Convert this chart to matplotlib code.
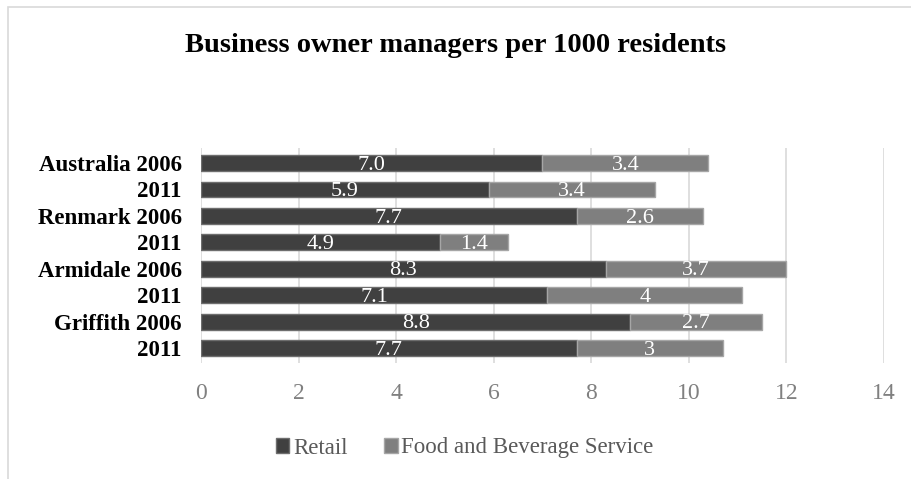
import matplotlib
matplotlib.use("Agg")
import matplotlib.pyplot as plt
from matplotlib.patches import Rectangle

# Business owner managers per 1000 residents, by town and census year
categories = ["Australia 2006", "2011", "Renmark 2006", "2011",
              "Armidale 2006", "2011", "Griffith 2006", "2011"]
retail = [7.0, 5.9, 7.7, 4.9, 8.3, 7.1, 8.8, 7.7]
food_bev = [3.4, 3.4, 2.6, 1.4, 3.7, 4.0, 2.7, 3.0]
retail_labels = ["7.0", "5.9", "7.7", "4.9", "8.3", "7.1", "8.8", "7.7"]
food_labels = ["3.4", "3.4", "2.6", "1.4", "3.7", "4", "2.7", "3"]
x_ticks = [0, 2, 4, 6, 8, 10, 12, 14]

plt.rcParams["font.family"] = ["Liberation Serif", "DejaVu Serif"]

fig = plt.figure(figsize=(9.11, 4.79), dpi=100)
ax = fig.add_axes([0.2206, 0.242, 0.7497, 0.449])

# outer chart frame
fig.patches.append(Rectangle((8 / 911, -0.1), 1.2, 1 - 7 / 479 + 0.1,
                             transform=fig.transFigure, fill=False,
                             edgecolor="#d9d9d9", linewidth=1.2))

ypos = list(range(len(categories)))
c_retail = "#404040"
c_food = "#7f7f7f"
h = 0.6

ax.barh(ypos, retail, height=h, color=c_retail, edgecolor="#6e6e6e",
        linewidth=1.0, label="Retail", zorder=3)
ax.barh(ypos, food_bev, left=retail, height=h, color=c_food,
        edgecolor="#a6a6a6", linewidth=1.0,
        label="Food and Beverage Service", zorder=3)

for i in ypos:
    ax.text(retail[i] / 2, i + 0.08, retail_labels[i], ha="center",
            va="center", color="white", fontsize=16, zorder=4)
    ax.text(retail[i] + food_bev[i] / 2, i + 0.08, food_labels[i],
            ha="center", va="center", color="white", fontsize=16, zorder=4)

ax.set_xlim(0, 14)
ax.set_ylim(7.57, -0.57)
ax.set_xticks(x_ticks)
ax.set_xticklabels([str(t) for t in x_ticks])
ax.set_yticks(ypos)
ax.set_yticklabels(categories, fontweight="bold", fontsize=16.5)
ax.tick_params(axis="x", colors="#808080", labelsize=17, length=0, pad=14)
ax.tick_params(axis="y", length=0, pad=14)
for lbl in ax.get_yticklabels():
    lbl.set_color("black")

ax.grid(axis="x", color="#d9d9d9", linewidth=1.2, zorder=0)
for s in ax.spines.values():
    s.set_visible(False)

fig.text(0.5, 1 - 45 / 479, "Business owner managers per 1000 residents",
         ha="center", va="center", fontsize=20.5, fontweight="bold")

leg = fig.legend(loc="center", bbox_to_anchor=(0.51, 1 - 448 / 479), ncol=2,
                 frameon=False, fontsize=16.5, handlelength=0.6,
                 handleheight=0.6, handletextpad=0.15, columnspacing=1.6,
                 labelcolor="#595959")

fig.savefig("out.png", dpi=100)
